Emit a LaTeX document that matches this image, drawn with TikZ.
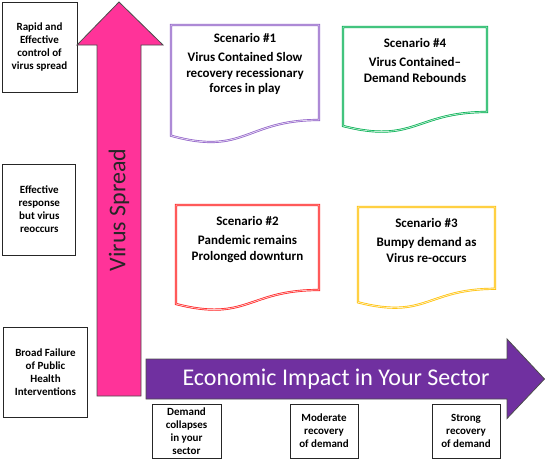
\documentclass[tikz,border=0pt]{standalone}
\usepackage{fontspec}
\setmainfont{Carlito}
\definecolor{pinkA}{HTML}{FF3399}
\definecolor{purpA}{HTML}{7030A0}
\definecolor{scPurple}{HTML}{9060C8}
\definecolor{scGreen}{HTML}{00B050}
\definecolor{scRed}{HTML}{FF2020}
\definecolor{scGold}{HTML}{FFC000}
\tikzset{
  lbox/.style={draw=black!85, line width=0.9pt, fill=white, align=center, inner sep=0pt,
    font=\bfseries\fontsize{11}{13}\selectfont},
  sctext/.style={align=center, inner sep=0pt, font=\bfseries\fontsize{13}{15.5}\selectfont},
  docshape/.style={draw=#1, double=#1!25, double distance=0.8pt, line width=0.7pt},
  bigarrow/.style={draw=black!70, line width=0.8pt, fill=#1},
  arrowtext/.style={inner sep=0pt, font=\fontsize{24}{28}\selectfont}
}
\begin{document}
\begin{tikzpicture}[x=1pt,y=-1pt]
\useasboundingbox (0,0) rectangle (545,464);

% left boxes
\node[lbox, minimum width=75pt, minimum height=90pt] (b1) at (39.5,47) {Rapid and\\Effective\\control of\\virus spread};
\node[lbox, minimum width=73pt, minimum height=91pt] (b2) at (39.3,209.5) {Effective\\response\\but virus\\reoccurs};
\node[lbox, minimum width=84pt, minimum height=90pt] (b3) at (45.5,372) {Broad Failure\\of Public\\Health\\Interventions};

% pink arrow
\draw[bigarrow=pinkA] (97,396) -- (97,45) -- (77,45) -- (119,2) -- (163,45) -- (141,45) -- (141,396) -- cycle;
\node[arrowtext, rotate=90, text=black!85] (vs) at (119,210) {Virus Spread};

% purple arrow
\draw[bigarrow=purpA] (146,359) -- (507,359) -- (507,339) -- (544.5,379) -- (507,418.5) -- (507,399) -- (146,399) -- cycle;
\node[arrowtext, text=white] (ei) at (336,379) {Economic Impact in Your Sector};

% bottom boxes
\node[lbox, minimum width=69pt, minimum height=54pt] (ba) at (186.5,431) {Demand\\collapses\\in your\\sector};
\node[lbox, minimum width=68pt, minimum height=54pt] (bb) at (324,431) {Moderate\\recovery\\of demand};
\node[lbox, minimum width=68pt, minimum height=54pt] (bc) at (466,431) {Strong\\recovery\\of demand};

% scenario shapes
\draw[docshape=scPurple] (171,25) -- (319,25) -- (319,120) .. controls (245,120) and (245,156.2) .. (171,135.7) -- cycle;
\draw[docshape=scGreen] (343,27) -- (487,27) -- (487,112) .. controls (415,112) and (415,144.3) .. (343,126) -- cycle;
\draw[docshape=scRed] (176,205) -- (319,205) -- (319,290) .. controls (247.5,290) and (247.5,322.3) .. (176,304) -- cycle;
\draw[docshape=scGold] (358,207) -- (495,207) -- (495,288.8) .. controls (426.5,288.8) and (426.5,319.9) .. (358,302.3) -- cycle;

\node[sctext] (s1) at (245,64) {Scenario \#1\\[3.5pt]Virus Contained Slow\\recovery recessionary\\forces in play};
\node[sctext] (s4) at (415,60.5) {Scenario \#4\\[3.5pt]Virus Contained\textendash\\Demand Rebounds};
\node[sctext] (s2) at (247.5,239.5) {Scenario \#2\\[3.5pt]Pandemic remains\\Prolonged downturn};
\node[sctext] (s3) at (426.5,240.5) {Scenario \#3\\[3.5pt]Bumpy demand as\\Virus re-occurs};
\end{tikzpicture}
\end{document}
